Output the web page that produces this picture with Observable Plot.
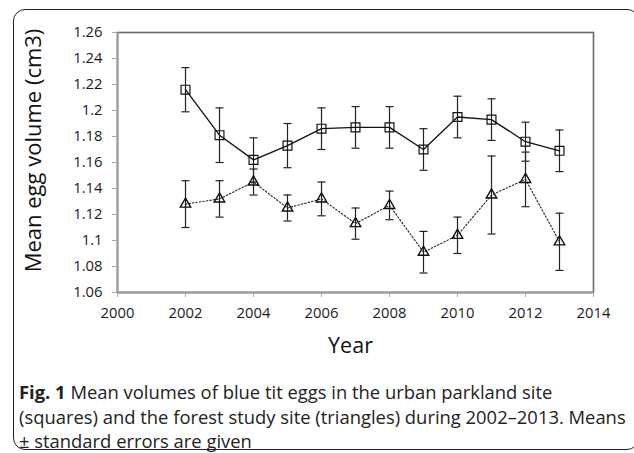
<!DOCTYPE html>
<html>
<head>
<meta charset="utf-8">
<script src="https://cdn.jsdelivr.net/npm/d3@7"></script>
<script src="https://cdn.jsdelivr.net/npm/@observablehq/plot@0.6"></script>
<style>
  html, body { margin: 0; padding: 0; background: #fff; }
  #wrap { position: relative; width: 634px; height: 453px; overflow: hidden; background: #fff; }
  #box { position: absolute; left: 13px; top: 9px; width: 624px; height: 439px; border: 1.3px solid #222; border-radius: 12px; }
  #chart { position: absolute; left: 0; top: 0; }
  #caption { position: absolute; left: 19px; top: 380px; font-family: "Open Sans", sans-serif; font-size: 18.4px; line-height: 24.5px; color: #222; white-space: nowrap; }
  #caption b { font-weight: 700; }
</style>
</head>
<body>
<div id="wrap">
  <div id="box"></div>
  <div id="chart"></div>
  <div id="caption"><b>Fig. 1</b> Mean volumes of blue tit eggs in the urban parkland site<br>(squares) and the forest study site (triangles) during 2002–2013. Means<br>± standard errors are given</div>
</div>
<script>
// Data
const years = [2002, 2003, 2004, 2005, 2006, 2007, 2008, 2009, 2010, 2011, 2012, 2013];
const urbanMean = [1.216, 1.181, 1.162, 1.173, 1.186, 1.187, 1.187, 1.170, 1.195, 1.193, 1.176, 1.169];
const urbanSE   = [0.017, 0.021, 0.017, 0.017, 0.016, 0.016, 0.016, 0.016, 0.016, 0.016, 0.015, 0.016];
const forestMean = [1.128, 1.132, 1.145, 1.125, 1.132, 1.113, 1.127, 1.091, 1.104, 1.135, 1.147, 1.099];
const forestSE   = [0.018, 0.014, 0.010, 0.010, 0.013, 0.012, 0.011, 0.016, 0.014, 0.030, 0.021, 0.022];

const xTicks = [2000, 2002, 2004, 2006, 2008, 2010, 2012, 2014];
const xTickLabels = ["2000", "2002", "2004", "2006", "2008", "2010", "2012", "2014"];
const yTicks = [1.06, 1.08, 1.10, 1.12, 1.14, 1.16, 1.18, 1.20, 1.22, 1.24, 1.26];
const yTickLabels = ["1.06", "1.08", "1.1", "1.12", "1.14", "1.16", "1.18", "1.2", "1.22", "1.24", "1.26"];

const xLabel = "Year";
const yLabel = "Mean egg volume (cm3)";

const urban = years.map((y, i) => ({year: y, mean: urbanMean[i], lo: urbanMean[i] - urbanSE[i], hi: urbanMean[i] + urbanSE[i]}));
const forest = years.map((y, i) => ({year: y, mean: forestMean[i], lo: forestMean[i] - forestSE[i], hi: forestMean[i] + forestSE[i]}));

const cap = { draw(ctx, size) { ctx.moveTo(-4, 0); ctx.lineTo(4, 0); } };

const errMarks = (data) => [
  Plot.ruleX(data, {x: "year", y1: "lo", y2: "hi", stroke: "#222", strokeWidth: 1.2}),
  Plot.dot(data, {x: "year", y: "lo", symbol: cap, r: 4, stroke: "#222", strokeWidth: 1.2}),
  Plot.dot(data, {x: "year", y: "hi", symbol: cap, r: 4, stroke: "#222", strokeWidth: 1.2})
];

const chart = Plot.plot({
  width: 634,
  height: 375,
  marginLeft: 117,
  marginRight: 41,
  marginTop: 32,
  marginBottom: 83,
  style: {fontFamily: "Open Sans, sans-serif", background: "transparent"},
  x: {domain: [2000, 2014]},
  y: {domain: [1.06, 1.26]},
  marks: [
    Plot.frame({stroke: "#6a6a6a", strokeWidth: 1.6}),
    Plot.axisX({ticks: xTicks, tickFormat: (d, i) => xTickLabels[i], tickSize: 5, tickPadding: 10, fontSize: 14.8, stroke: "#aaa", fill: "#1a1a1a", label: null}),
    Plot.axisY({ticks: yTicks, tickFormat: (d, i) => yTickLabels[i], tickSize: 5, tickPadding: 10, fontSize: 14.8, stroke: "#aaa", fill: "#1a1a1a", label: null}),
    Plot.ruleX([2000], {stroke: "#9a9a9a", strokeWidth: 1.8}),
    Plot.ruleY([1.06], {stroke: "#9a9a9a", strokeWidth: 1.8}),
    ...errMarks(urban),
    ...errMarks(forest),
    Plot.line(urban, {x: "year", y: "mean", stroke: "#111", strokeWidth: 1.3}),
    Plot.line(forest, {x: "year", y: "mean", stroke: "#222", strokeWidth: 1.1, strokeDasharray: "1.5,2"}),
    Plot.dot(urban, {x: "year", y: "mean", symbol: "square", r: 5, stroke: "#111", strokeWidth: 1.2, fill: "none"}),
    Plot.dot(forest, {x: "year", y: "mean", symbol: "triangle", r: 3.9, stroke: "#111", strokeWidth: 1.4, fill: "none"}),
    Plot.text([xLabel], {frameAnchor: "bottom", dx: -5, dy: 60, fontSize: 21.5, fill: "#111"}),
    Plot.text([yLabel], {frameAnchor: "left", textAnchor: "middle", rotate: -90, dx: -84, dy: -12, fontSize: 22, fill: "#111"})
  ]
});
document.getElementById("chart").appendChild(chart);
</script>
</body>
</html>
